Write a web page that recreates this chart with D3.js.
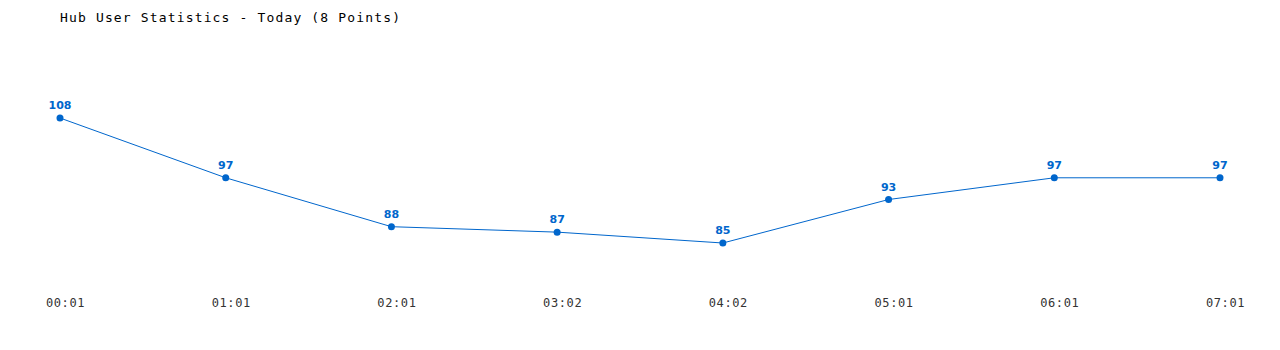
<!DOCTYPE html>
<html>
<head>
<meta charset="utf-8">
<script src="https://cdn.jsdelivr.net/npm/d3@7"></script>
<style>
  body { margin: 0; background: #fff; }
  svg { display: block; }
</style>
</head>
<body>
<div id="chart"></div>
<script>
    "use strict";

    // chart data
    var times = ['00:01', '01:01', '02:01', '03:02', '04:02', '05:01', '06:01', '07:01'];
    var users = [108, 97, 88, 87, 85, 93, 97, 97];
    var title = 'Hub User Statistics - Today (8 Points)';

    var width = 1280,
        height = 350,
        lineColor = '#0066cc';

    var svg = d3.select('#chart').append('svg')
        .attr('width', width)
        .attr('height', height);

    var x = d3.scalePoint()
        .domain(times)
        .range([60, 1220]);

    var y = d3.scaleLinear()
        .domain([85, 108])
        .range([243, 118]);

    // title
    svg.append('text')
        .attr('x', 60)
        .attr('y', 22)
        .attr('font-family', 'DejaVu Sans Mono, monospace')
        .attr('font-size', 13)
        .attr('letter-spacing', 1.15)
        .attr('fill', '#000')
        .text(title);

    // x axis labels, no line or ticks
    var xAxis = d3.axisBottom(x).tickSize(0).tickPadding(0);
    var gx = svg.append('g')
        .attr('transform', 'translate(5,298)')
        .call(xAxis);
    gx.select('.domain').remove();
    gx.selectAll('text')
        .attr('font-family', 'DejaVu Sans Mono, monospace')
        .attr('font-size', 12)
        .attr('letter-spacing', 0.6)
        .attr('fill', '#333');

    var line = d3.line()
        .x(function (d, i) { return x(times[i]); })
        .y(function (d) { return y(d); });

    svg.append('path')
        .datum(users)
        .attr('d', line)
        .attr('fill', 'none')
        .attr('stroke', lineColor)
        .attr('stroke-width', 1);

    svg.selectAll('circle.pt')
        .data(users)
        .enter().append('circle')
        .attr('class', 'pt')
        .attr('cx', function (d, i) { return x(times[i]); })
        .attr('cy', function (d) { return y(d); })
        .attr('r', 3.5)
        .attr('fill', lineColor);

    svg.selectAll('text.val')
        .data(users)
        .enter().append('text')
        .attr('class', 'val')
        .attr('x', function (d, i) { return x(times[i]); })
        .attr('y', function (d) { return y(d) - 9; })
        .attr('text-anchor', 'middle')
        .attr('font-family', 'DejaVu Sans, sans-serif')
        .attr('font-weight', 'bold')
        .attr('font-size', 11)
        .attr('fill', lineColor)
        .text(function (d) { return d; });
</script>
</body>
</html>
